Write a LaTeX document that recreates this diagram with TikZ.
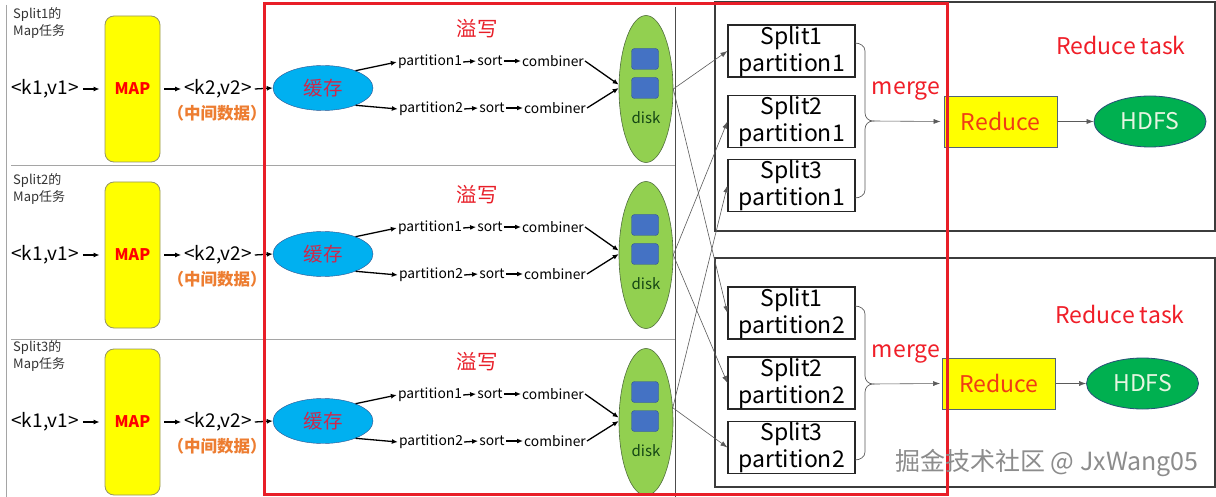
\documentclass[tikz,border=0pt]{standalone}
\usepackage{fontspec}
\setmainfont{Noto Sans CJK SC}
\usetikzlibrary{arrows.meta,shapes.geometric}
\definecolor{mapyellow}{RGB}{255,255,0}
\definecolor{mapborder}{RGB}{150,150,100}
\definecolor{cacheblue}{RGB}{0,176,240}
\definecolor{cacheborder}{RGB}{47,82,143}
\definecolor{cachetext}{RGB}{205,40,75}
\definecolor{spillred}{RGB}{232,30,40}
\definecolor{midorange}{RGB}{237,125,49}
\definecolor{diskgreen}{RGB}{146,208,80}
\definecolor{diskborder}{RGB}{80,110,60}
\definecolor{blkblue}{RGB}{68,114,196}
\definecolor{blkborder}{RGB}{47,82,143}
\definecolor{disktext}{RGB}{20,70,20}
\definecolor{reducetext}{RGB}{240,60,20}
\definecolor{rbborder}{RGB}{80,100,120}
\definecolor{hdfsgreen}{RGB}{0,176,80}
\definecolor{hdfsborder}{RGB}{40,80,120}
\definecolor{hdfstext}{RGB}{230,245,225}
\definecolor{labelred}{RGB}{240,30,40}
\definecolor{gridgray}{RGB}{165,165,165}
\definecolor{framegray}{RGB}{60,60,60}
\definecolor{linkgray}{RGB}{90,90,90}
\begin{document}
\begin{tikzpicture}[x=1pt,y=-1pt,
  kv/.style={font=\fontsize{19}{22}\selectfont, inner sep=0pt},
  rowlabel/.style={font=\fontsize{13}{17}\selectfont, text=black!80, align=left, inner sep=0pt},
  mapbox/.style={draw=mapborder, fill=mapyellow, rounded corners=9pt, minimum width=55pt, minimum height=146pt, line width=0.8pt, font=\fontsize{16}{18}\selectfont\bfseries, text=red, inner sep=0pt},
  midtext/.style={font=\fontsize{16.5}{18}\selectfont\bfseries, text=midorange, inner sep=0pt},
  cacheshape/.style={ellipse, draw=cacheborder, fill=cacheblue, minimum width=100pt, minimum height=45pt, inner sep=0pt, font=\fontsize{19.5}{21}\selectfont, text=cachetext},
  spilltext/.style={font=\fontsize{20.5}{24}\selectfont, text=spillred, inner sep=0pt},
  smalltext/.style={font=\fontsize{13.8}{16}\selectfont, inner sep=1pt},
  diskshape/.style={ellipse, draw=diskborder, fill=diskgreen, minimum width=54pt, minimum height=147pt, inner sep=0pt, line width=0.6pt},
  blk/.style={draw=blkborder, fill=blkblue, rounded corners=3pt, minimum width=27pt, minimum height=21pt, inner sep=0pt},
  disklabel/.style={font=\fontsize{15}{17}\selectfont, text=disktext, inner sep=0pt},
  flow/.style={-{Latex[length=6pt,width=5pt]}, line width=1.3pt, black},
  xline/.style={-{Latex[length=7pt,width=5pt]}, line width=0.6pt, draw=linkgray},
  partbox/.style={draw=black!85, line width=1.1pt, minimum width=127pt, minimum height=52pt, align=center, font=\fontsize{23}{27}\selectfont, inner sep=0pt},
  taskframe/.style={draw=framegray, line width=1.4pt, minimum width=500pt, minimum height=229pt, inner sep=0pt},
  reducebox/.style={draw=rbborder, fill=mapyellow, line width=0.8pt, minimum width=113pt, minimum height=51pt, font=\fontsize{23}{26}\selectfont, text=reducetext, inner sep=0pt},
  hdfsshape/.style={ellipse, draw=hdfsborder, fill=hdfsgreen, line width=0.8pt, minimum width=112pt, minimum height=51pt, inner sep=0pt, text=hdfstext, font=\fontsize{23}{26}\selectfont},
  redlabel/.style={font=\fontsize{23}{26}\selectfont, text=labelred, inner sep=0pt},
  bracestyle/.style={draw=linkgray, line width=0.7pt},
  gridline/.style={draw=gridgray, line width=0.8pt}
]
\useasboundingbox (0,0) rectangle (1216,497);
\fill[white] (0,0) rectangle (1216,497);

% grid lines of the map side
\draw[gridline] (6,5) -- (6,497);
\draw[gridline] (11,165.5) -- (675,165.5);
\draw[gridline] (11,339) -- (675,339);
\draw[draw=black!70, line width=0.8pt] (675,7) -- (675,497);

% map rows
\foreach \r/\yc in {1/89,2/255,3/422} {
  \node[rowlabel, anchor=north west] (lab\r) at (13,\yc-82) {Split\r 的\\Map任务};
  \node[kv] (kin\r) at (45,\yc) {<k1,v1>};
  \node[mapbox] (map\r) at (132.5,\yc) {MAP};
  \node[kv] (kout\r) at (218,\yc) {<k2,v2>};
  \node[midtext] (mid\r) at (217,\yc+24) {（中间数据）};
  \node[cacheshape] (cache\r) at (323,\yc-1) {缓存};
  \node[spilltext] (spill\r) at (477,\yc-60) {溢写};
  \node[smalltext] (pa\r) at (430,\yc-27) {partition1};
  \node[smalltext] (sa\r) at (490,\yc-28) {sort};
  \node[smalltext] (ca\r) at (553,\yc-28) {combiner};
  \node[smalltext] (pb\r) at (431,\yc+20) {partition2};
  \node[smalltext] (sb\r) at (492,\yc+19) {sort};
  \node[smalltext] (cb\r) at (555,\yc+19) {combiner};
  \node[diskshape] (disk\r) at (646,\yc) {};
  \node[blk] (blka\r) at (645,\yc-30) {};
  \node[blk] (blkb\r) at (645,\yc-1) {};
  \node[disklabel] (dl\r) at (646,\yc+29) {disk};
  \draw[flow] ([xshift=4pt]kin\r.east) -- ([xshift=-5pt]map\r.west);
  \draw[flow] ([xshift=4pt]map\r.east) -- ([xshift=-3pt]kout\r.west);
  \draw[flow] ([xshift=3pt]kout\r.east) -- (cache\r.west);
  \draw[flow] (cache\r.28) -- (pa\r.west);
  \draw[flow] (cache\r.-28) -- (pb\r.west);
  \draw[flow] (pa\r.east) -- (sa\r.west);
  \draw[flow] (sa\r.east) -- (ca\r.west);
  \draw[flow] (pb\r.east) -- (sb\r.west);
  \draw[flow] (sb\r.east) -- (cb\r.west);
  \draw[flow] (ca\r.east) -- (disk\r.171);
  \draw[flow] (cb\r.east) -- (disk\r.178);
}

% reduce task frames
\node[taskframe] (task1) at (965,116.5) {};
\node[taskframe] (task2) at (965,372.5) {};

% partition boxes
\node[partbox] (s1p1) at (791.5,51) {Split1\\partition1};
\node[partbox] (s2p1) at (791.5,121.5) {Split2\\partition1};
\node[partbox] (s3p1) at (791.5,185.5) {Split3\\partition1};
\node[partbox] (s1p2) at (791.5,313) {Split1\\partition2};
\node[partbox] (s2p2) at (791.5,383) {Split2\\partition2};
\node[partbox] (s3p2) at (791.5,447.5) {Split3\\partition2};

% shuffle links
\draw[xline] (disk1.east) -- (s1p1.west);
\draw[xline] (disk1.east) -- (s1p2.west);
\draw[xline] (disk2.east) -- (s2p1.west);
\draw[xline] (disk2.east) -- (s2p2.west);
\draw[xline] (disk3.28) -- (s3p1.west);
\draw[xline] (disk3.28) -- (s3p2.west);

% braces
\coordinate (tip1) at (873,121);
\coordinate (tip2) at (873,384);
\draw[bracestyle] (855,43) to[out=0,in=90] (865,51) -- (865,113) to[out=-90,in=180] (tip1)
  to[out=180,in=90] (865,129) -- (865,190) to[out=-90,in=0] (855,198);
\draw[bracestyle] (855,306) to[out=0,in=90] (865,314) -- (865,376) to[out=-90,in=180] (tip2)
  to[out=180,in=90] (865,392) -- (865,452) to[out=-90,in=0] (855,460);

\node[redlabel] (merge1) at (906,91) {merge};
\node[redlabel] (merge2) at (906,354) {merge};
\node[redlabel] (rt1) at (1121,45) {Reduce task};
\node[redlabel] (rt2) at (1120,314) {Reduce task};

% reduce and hdfs
\node[reducebox] (red1) at (1000.5,121.5) {Reduce};
\node[reducebox] (red2) at (999,383.5) {Reduce};
\node[hdfsshape] (hdfs1) at (1150,121.5) {HDFS};
\node[hdfsshape] (hdfs2) at (1142.5,383.5) {HDFS};

\draw[xline] (tip1) -- ([xshift=-3pt]red1.west);
\draw[xline] (tip2) -- ([xshift=-2pt]red2.west);
\draw[xline] (red1.east) -- (hdfs1.west);
\draw[xline] (red2.east) -- (hdfs2.west);

% spill frame
\draw[draw=spillred, line width=3pt] (264,3.5) rectangle (947.5,494.5);

% watermark
\node[font=\fontsize{25}{28}\selectfont, text=black!45, inner sep=0pt] (wm) at (1047,463) {掘金技术社区 @ JxWang05};
\end{tikzpicture}
\end{document}
